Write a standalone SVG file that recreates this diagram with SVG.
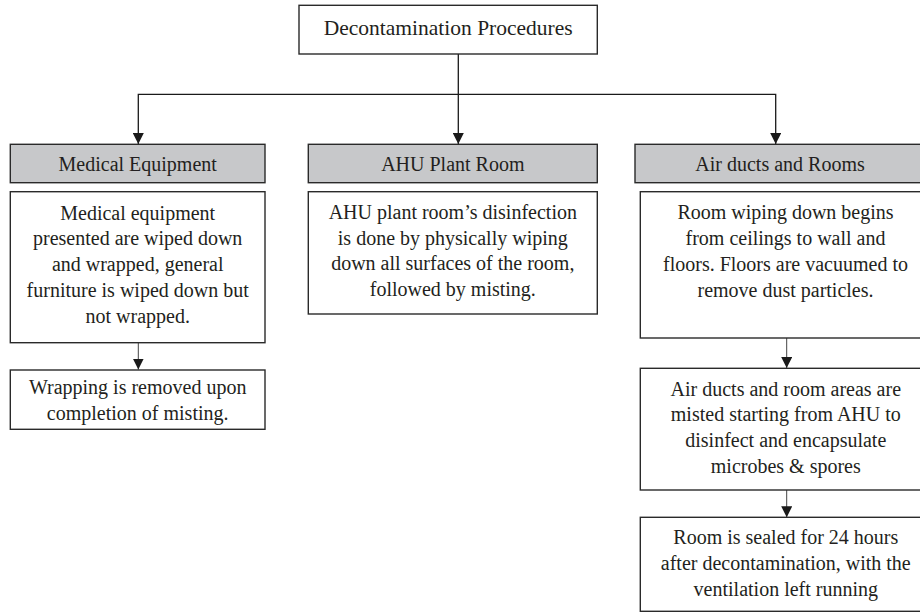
<svg xmlns="http://www.w3.org/2000/svg" width="920" height="612" viewBox="0 0 920 612">
<defs>
<marker id="ah" markerWidth="11" markerHeight="11" refX="11" refY="5.5" orient="auto" markerUnits="userSpaceOnUse">
<path d="M0,0 L11,5.5 L0,11 Z" fill="#1a1a1a"/>
</marker>
<style>
.box{fill:#fff;stroke:#2a2a2a;stroke-width:1.4}
.hdr{fill:#c7c8ca;stroke:#2a2a2a;stroke-width:1.4}
.t{font-family:"Liberation Serif","Times New Roman",serif;font-size:20px;fill:#231f20;text-anchor:middle}
.title{font-size:21.5px}
.c{fill:none;stroke:#1a1a1a;stroke-width:1.3}
.c2{fill:none;stroke:#444;stroke-width:1}
</style>
</defs>
<rect width="920" height="612" fill="#fff"/>
<g id="connectors">
<path class="c" d="M458.3,54 V94.3 H138.3 V144" marker-end="url(#ah)"/>
<path class="c" d="M458.3,94.3 V144" marker-end="url(#ah)"/>
<path class="c" d="M458.3,94.3 H775.7 V144" marker-end="url(#ah)"/>
<path class="c2" d="M138.3,342.7 V369.5" marker-end="url(#ah)"/>
<path class="c2" d="M786.7,338 V368" marker-end="url(#ah)"/>
<path class="c2" d="M786.7,490 V517.3" marker-end="url(#ah)"/>
</g>
<g id="root">
<rect class="box" x="299" y="5.3" width="298.3" height="48.7"/>
<text class="t title" x="448.2" y="34.5">Decontamination Procedures</text>
</g>
<g id="medical-equipment">
<rect class="hdr" x="10.3" y="144.3" width="254.7" height="38.4"/>
<text class="t" x="137.7" y="171">Medical Equipment</text>
</g>
<g id="ahu-plant-room">
<rect class="hdr" x="308.3" y="144.3" width="289" height="38.4"/>
<text class="t" x="452.8" y="171">AHU Plant Room</text>
</g>
<g id="air-ducts-rooms">
<rect class="hdr" x="635" y="144.3" width="290" height="38.4"/>
<text class="t" x="780" y="171">Air ducts and Rooms</text>
</g>
<g id="medical-detail">
<rect class="box" x="10.3" y="191.7" width="254.7" height="151"/>
<text class="t" x="137.7" y="219.5">Medical equipment</text>
<text class="t" x="137.7" y="245.3">presented are wiped down</text>
<text class="t" x="137.7" y="271.1">and wrapped, general</text>
<text class="t" x="137.7" y="296.9">furniture is wiped down but</text>
<text class="t" x="137.7" y="322.7">not wrapped.</text>
</g>
<g id="wrapping">
<rect class="box" x="10.3" y="370" width="254.7" height="59.3"/>
<text class="t" x="137.7" y="394">Wrapping is removed upon</text>
<text class="t" x="137.7" y="419.5">completion of misting.</text>
</g>
<g id="ahu-detail">
<rect class="box" x="308.3" y="191.7" width="289" height="122.3"/>
<text class="t" x="452.8" y="219">AHU plant room’s disinfection</text>
<text class="t" x="452.8" y="244.5">is done by physically wiping</text>
<text class="t" x="452.8" y="270">down all surfaces of the room,</text>
<text class="t" x="452.8" y="295.7">followed by misting.</text>
</g>
<g id="room-wiping">
<rect class="box" x="640.3" y="191.7" width="292" height="146.3"/>
<text class="t" x="785.5" y="219.3">Room wiping down begins</text>
<text class="t" x="785.5" y="245">from ceilings to wall and</text>
<text class="t" x="785.5" y="270.8">floors. Floors are vacuumed to</text>
<text class="t" x="785.5" y="296.6">remove dust particles.</text>
</g>
<g id="misting">
<rect class="box" x="640.3" y="368.3" width="292" height="121.7"/>
<text class="t" x="785.8" y="395.5">Air ducts and room areas are</text>
<text class="t" x="785.8" y="421.3">misted starting from AHU to</text>
<text class="t" x="785.8" y="447.1">disinfect and encapsulate</text>
<text class="t" x="785.8" y="472.9">microbes &amp; spores</text>
</g>
<g id="sealed">
<rect class="box" x="640.3" y="517.3" width="292" height="94"/>
<text class="t" x="785.8" y="544.3">Room is sealed for 24 hours</text>
<text class="t" x="785.8" y="570.3">after decontamination, with the</text>
<text class="t" x="785.8" y="596.3">ventilation left running</text>
</g>
</svg>
